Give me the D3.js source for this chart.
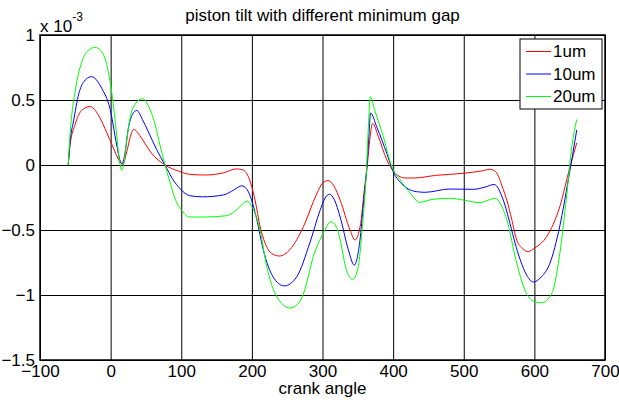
<!DOCTYPE html>
<html>
<head>
<meta charset="utf-8">
<script src="https://cdn.jsdelivr.net/npm/d3@7"></script>
<style>
  body { margin: 0; background: #fff; }
  text { font-family: "Liberation Sans", Arial, sans-serif; fill: #000; }
</style>
</head>
<body>
<svg id="chart" width="619" height="402"></svg>
<script>
// data (tilt in units of 1e-3)
var angle1um = [-60, -57.5, -50.4, -41, -29, -17.4, -8, 4, 13, 17, 22.8, 28, 33, 38, 44, 58, 77, 98, 112, 134, 160, 178, 186, 195, 204.5, 211.5, 218.6, 228, 239, 254, 273, 292, 300, 308, 316, 325, 339, 346, 354, 359, 363.5, 367, 371, 379, 391, 403, 417, 430, 460, 499, 525, 537, 545, 556, 561, 568, 575, 583, 591, 600, 617.5, 636, 650.5, 660];
var tilt1um = [0, 0.15, 0.31, 0.42, 0.45, 0.385, 0.28, 0.13, 0.025, 0.005, 0.10, 0.22, 0.275, 0.25, 0.205, 0.09, 0, -0.05, -0.072, -0.077, -0.06, -0.03, -0.035, -0.09, -0.27, -0.47, -0.60, -0.68, -0.70, -0.65, -0.474, -0.22, -0.14, -0.12, -0.16, -0.27, -0.50, -0.577, -0.45, -0.2, 0, 0.2, 0.32, 0.22, 0.04, -0.064, -0.10, -0.10, -0.08, -0.064, -0.046, -0.033, -0.05, -0.19, -0.27, -0.42, -0.577, -0.64, -0.667, -0.64, -0.55, -0.32, -0.013, 0.17];

var angle10um = [-60, -57, -52.8, -45, -38, -27, -18, -12.6, -1, 8.6, 13, 16, 20, 25, 31, 37, 45, 53.4, 65, 77, 88, 98, 112, 130, 160, 175, 185.6, 192, 197, 207, 216, 230, 246, 263.5, 282, 296.5, 303, 310, 317, 325, 336.5, 345, 353, 358, 363, 366, 368, 377, 391, 400, 414, 433, 445, 480, 513.6, 530, 543, 556, 565.5, 572.6, 580, 589, 598.5, 610, 622, 636, 648, 660];
var tilt10um = [0, 0.2, 0.33, 0.55, 0.64, 0.68, 0.64, 0.59, 0.436, 0.154, 0.04, 0.01, 0.08, 0.28, 0.39, 0.42, 0.35, 0.256, 0.12, 0, -0.11, -0.18, -0.236, -0.245, -0.23, -0.19, -0.16, -0.18, -0.23, -0.42, -0.65, -0.86, -0.93, -0.86, -0.60, -0.35, -0.26, -0.225, -0.27, -0.40, -0.65, -0.77, -0.58, -0.3, 0, 0.25, 0.40, 0.29, 0.09, -0.05, -0.154, -0.205, -0.21, -0.185, -0.187, -0.17, -0.15, -0.27, -0.45, -0.60, -0.73, -0.846, -0.90, -0.86, -0.756, -0.47, -0.115, 0.27];

var angle20um = [-60, -57.5, -50.4, -41, -32, -22, -14, -8, 1.5, 8.6, 12.5, 15.7, 19, 23, 27.5, 35, 45.4, 53, 63, 70, 77, 84, 91, 100.7, 112, 134, 164, 175, 183, 193.6, 200, 211.5, 221, 235, 254, 265, 273, 287, 301, 312, 320, 325, 334, 343, 350.7, 356, 362.6, 365, 367.6, 374, 386, 398, 410, 424, 438, 455, 480, 500, 523, 535, 545, 552, 561, 575, 589, 600, 610, 624.5, 636, 646, 653, 660];
var tilt20um = [0, 0.23, 0.56, 0.79, 0.88, 0.905, 0.88, 0.82, 0.56, 0.23, 0.03, -0.04, 0.02, 0.2, 0.36, 0.47, 0.51, 0.46, 0.31, 0.15, 0, -0.13, -0.256, -0.35, -0.40, -0.40, -0.39, -0.36, -0.32, -0.277, -0.32, -0.5, -0.78, -1.01, -1.10, -1.07, -0.99, -0.705, -0.525, -0.436, -0.48, -0.577, -0.81, -0.88, -0.78, -0.5, 0, 0.3, 0.525, 0.42, 0.22, -0.01, -0.115, -0.215, -0.287, -0.265, -0.256, -0.27, -0.29, -0.27, -0.256, -0.3, -0.42, -0.756, -0.99, -1.05, -1.06, -0.99, -0.68, -0.22, 0.14, 0.35];

var seriesNames = ["1um", "10um", "20um"];
var seriesColors = ["#ff0000", "#0000ff", "#00ff00"];
var xTicks = [-100, 0, 100, 200, 300, 400, 500, 600, 700];
var yTicks = [-1.5, -1, -0.5, 0, 0.5, 1];

var series = [
  { name: seriesNames[0], angle: angle1um, tilt: tilt1um },
  { name: seriesNames[1], angle: angle10um, tilt: tilt10um },
  { name: seriesNames[2], angle: angle20um, tilt: tilt20um }
];

var svg = d3.select("#chart"),
  margin = { top: 35, left: 40, bottom: 42, right: 14 },
  width = +svg.attr("width") - margin.left - margin.right,
  height = +svg.attr("height") - margin.top - margin.bottom;

var x = d3.scaleLinear().domain([-100, 700]).range([margin.left, margin.left + width]);
var y = d3.scaleLinear().domain([-1.5, 1]).range([margin.top + height, margin.top]);

svg.append("rect").attr("width", 619).attr("height", 402).attr("fill", "#fff");

// grid + tick labels
var xAxis = svg.append("g")
  .attr("transform", `translate(0,${margin.top + height})`)
  .call(d3.axisBottom(x).tickValues(xTicks).tickSize(-height).tickPadding(5).tickFormat(d3.format("d")));

var yAxis = svg.append("g")
  .attr("transform", `translate(${margin.left},0)`)
  .call(d3.axisLeft(y).tickValues(yTicks).tickSize(-width).tickPadding(5).tickFormat(d => d3.format("")(d)));

svg.selectAll(".domain").remove();
svg.selectAll(".tick line").attr("stroke", "#000").attr("stroke-width", 1);
svg.selectAll(".tick text").style("font-size", "17px").attr("fill", "#000");

// lines
var line = d3.line()
  .x(d => x(d[0]))
  .y(d => y(d[1]))
  .curve(d3.curveMonotoneX);

series.forEach(function (s, i) {
  svg.append("path")
    .datum(s.angle.map((a, j) => [a, s.tilt[j]]))
    .attr("fill", "none")
    .attr("stroke", seriesColors[i])
    .attr("stroke-width", 1)
    .attr("d", line);
});

// axes box
svg.append("rect")
  .attr("x", margin.left).attr("y", margin.top)
  .attr("width", width).attr("height", height)
  .attr("fill", "none").attr("stroke", "#000").attr("stroke-width", 1.5);

// title, labels
svg.append("text")
  .attr("x", margin.left + width / 2).attr("y", 21)
  .attr("text-anchor", "middle").style("font-size", "17px")
  .text("piston tilt with different minimum gap");

svg.append("text")
  .attr("x", margin.left + width / 2).attr("y", 394)
  .attr("text-anchor", "middle").style("font-size", "17px")
  .text("crank angle");

var expo = svg.append("text")
  .attr("x", 40).attr("y", 32).style("font-size", "17px");
expo.append("tspan").text("x 10");
expo.append("tspan").attr("dy", -11).style("font-size", "12px").text("-3");

// legend
var legend = svg.append("g").attr("transform", "translate(520,39)");
legend.append("rect")
  .attr("width", 82).attr("height", 70)
  .attr("fill", "#fff").attr("stroke", "#000").attr("stroke-width", 1);

var items = legend.selectAll("g.item")
  .data(seriesNames)
  .enter().append("g")
  .attr("class", "item")
  .attr("transform", (d, i) => "translate(0," + (12.5 + i * 22.5) + ")");

items.append("line")
  .attr("x1", 6).attr("x2", 31)
  .attr("stroke", (d, i) => seriesColors[i]).attr("stroke-width", 1);

items.append("text")
  .attr("x", 33).attr("dy", "0.35em")
  .style("font-size", "17px")
  .text(d => d);
</script>
</body>
</html>
